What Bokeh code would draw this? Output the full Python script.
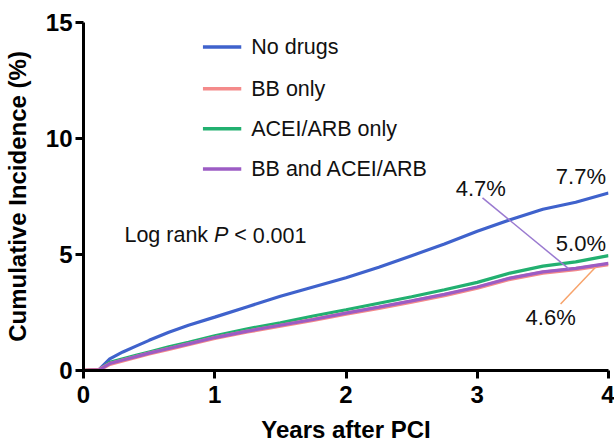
from bokeh.plotting import figure
from bokeh.models import Range1d, FixedTicker
from bokeh.core.properties import value
from bokeh.embed import file_html
from bokeh.resources import INLINE

# ---- data ----
years = [0, 0.12, 0.2, 0.3, 0.4, 0.5, 0.65, 0.8, 1.0, 1.25, 1.5, 1.75, 2.0,
         2.25, 2.5, 2.75, 3.0, 3.25, 3.5, 3.75, 4.0]
no_drugs = [0, 0.05, 0.5, 0.8, 1.05, 1.3, 1.65, 1.95, 2.3, 2.75, 3.2, 3.6, 4.0,
            4.45, 4.95, 5.45, 6.0, 6.5, 6.95, 7.25, 7.65]
bb_only = [0, 0.03, 0.28, 0.43, 0.58, 0.73, 0.93, 1.13, 1.4, 1.68, 1.93, 2.18, 2.45,
           2.7, 2.97, 3.25, 3.57, 3.95, 4.22, 4.37, 4.58]
acei_only = [0, 0.03, 0.35, 0.5, 0.65, 0.8, 1.02, 1.22, 1.5, 1.8, 2.05, 2.35, 2.62,
             2.9, 3.18, 3.48, 3.8, 4.2, 4.5, 4.68, 4.95]
bb_acei = [0, 0.03, 0.3, 0.45, 0.6, 0.75, 0.95, 1.15, 1.42, 1.7, 1.95, 2.2, 2.47,
           2.73, 3.0, 3.28, 3.6, 3.98, 4.25, 4.4, 4.62]

series_names = ["No drugs", "BB only", "ACEI/ARB only", "BB and ACEI/ARB"]
series_colors = ["#3f62cc", "#f48a8a", "#22b070", "#9c5cc4"]
x_ticks = [0, 1, 2, 3, 4]
y_ticks = [0, 5, 10, 15]
end_labels = ["7.7%", "4.7%", "5.0%", "4.6%"]
x_title = "Years after PCI"
y_title = "Cumulative Incidence (%)"

FONT = "Liberation Sans"
PX_PER_YEAR = 131.5

p = figure(width=614, height=445, x_range=Range1d(0, 4), y_range=Range1d(0, 15),
           output_backend="svg", toolbar_location=None,
           min_border_left=82, min_border_right=6, min_border_top=22,
           min_border_bottom=75)
p.outline_line_color = None
p.grid.visible = False
p.background_fill_color = "white"
p.border_fill_color = "white"

for ax in (p.xaxis[0], p.yaxis[0]):
    ax.axis_line_width = 3
    ax.axis_line_color = "black"
    ax.major_tick_line_width = 3
    ax.major_tick_line_color = "black"
    ax.major_tick_out = 8
    ax.major_tick_in = 0
    ax.minor_tick_line_color = None
    ax.major_label_text_font = FONT
    ax.major_label_text_font_style = "bold"
    ax.major_label_text_font_size = "24px"
    ax.major_label_text_color = "black"
    ax.axis_label_text_font = FONT
    ax.axis_label_text_font_style = "bold"
    ax.axis_label_text_font_size = "24px"
    ax.axis_label_text_color = "black"

p.xaxis.ticker = FixedTicker(ticks=x_ticks)
p.yaxis.ticker = FixedTicker(ticks=y_ticks)
p.xaxis.axis_label = x_title
p.yaxis.axis_label = y_title
p.xaxis.major_label_standoff = 7
p.xaxis.axis_label_standoff = 10
p.yaxis.major_label_standoff = 3
p.yaxis.axis_label_standoff = 12

# curves
p.line(years, no_drugs, line_color=series_colors[0], line_width=3.2)
p.line(years, acei_only, line_color=series_colors[2], line_width=3.2)
p.line(years, bb_only, line_color=series_colors[1], line_width=4.2)
p.line(years, bb_acei, line_color=series_colors[3], line_width=3.2)

# legend (manual)
leg_y = [13.94, 12.14, 10.42, 8.69]
for name, col, yy in zip(series_names, series_colors, leg_y):
    p.segment(x0=[0.910], y0=[yy], x1=[1.202], y1=[yy], line_color=col, line_width=3.5)
    p.text(x=[1.278], y=[yy], text=[name], text_font=value(FONT),
           text_font_size="21.5px", text_baseline="middle", text_align="left",
           text_color="#111111")

# leader lines
p.segment(x0=[3.040], y0=[7.44], x1=[3.698], y1=[4.38], line_color="#9a7ad0", line_width=1.5)
p.segment(x0=[3.901], y0=[4.45], x1=[3.635], y1=[2.87], line_color="#f7a36b", line_width=1.5)

# end labels
lab_x = [3.79, 3.027, 3.79, 3.559]
lab_y = [8.36, 7.84, 5.47, 2.30]
p.text(x=lab_x, y=lab_y, text=end_labels, text_font=value(FONT),
       text_font_size="22px", text_baseline="middle", text_align="center",
       text_color="#111111")

# log rank text (pieces placed by Arial-metric widths at 21.5px)
lr_x0, lr_y = 0.312, 5.82
fs = 21.5
pieces = [("Log rank", 0.0, "normal"),
          ("P", 4.169 * fs, "italic"),
          ("<", (4.169 + 0.667 + 0.278) * fs, "normal"),
          ("0.001", (4.169 + 0.667 + 0.278 + 0.584 + 0.278) * fs, "normal")]
for txt, off, style in pieces:
    p.text(x=[lr_x0 + off / PX_PER_YEAR], y=[lr_y], text=[txt], text_font=value(FONT),
           text_font_size="21.5px", text_font_style=style, text_baseline="middle",
           text_align="left", text_color="#111111")

open("out.html", "w").write(file_html(p, INLINE))
